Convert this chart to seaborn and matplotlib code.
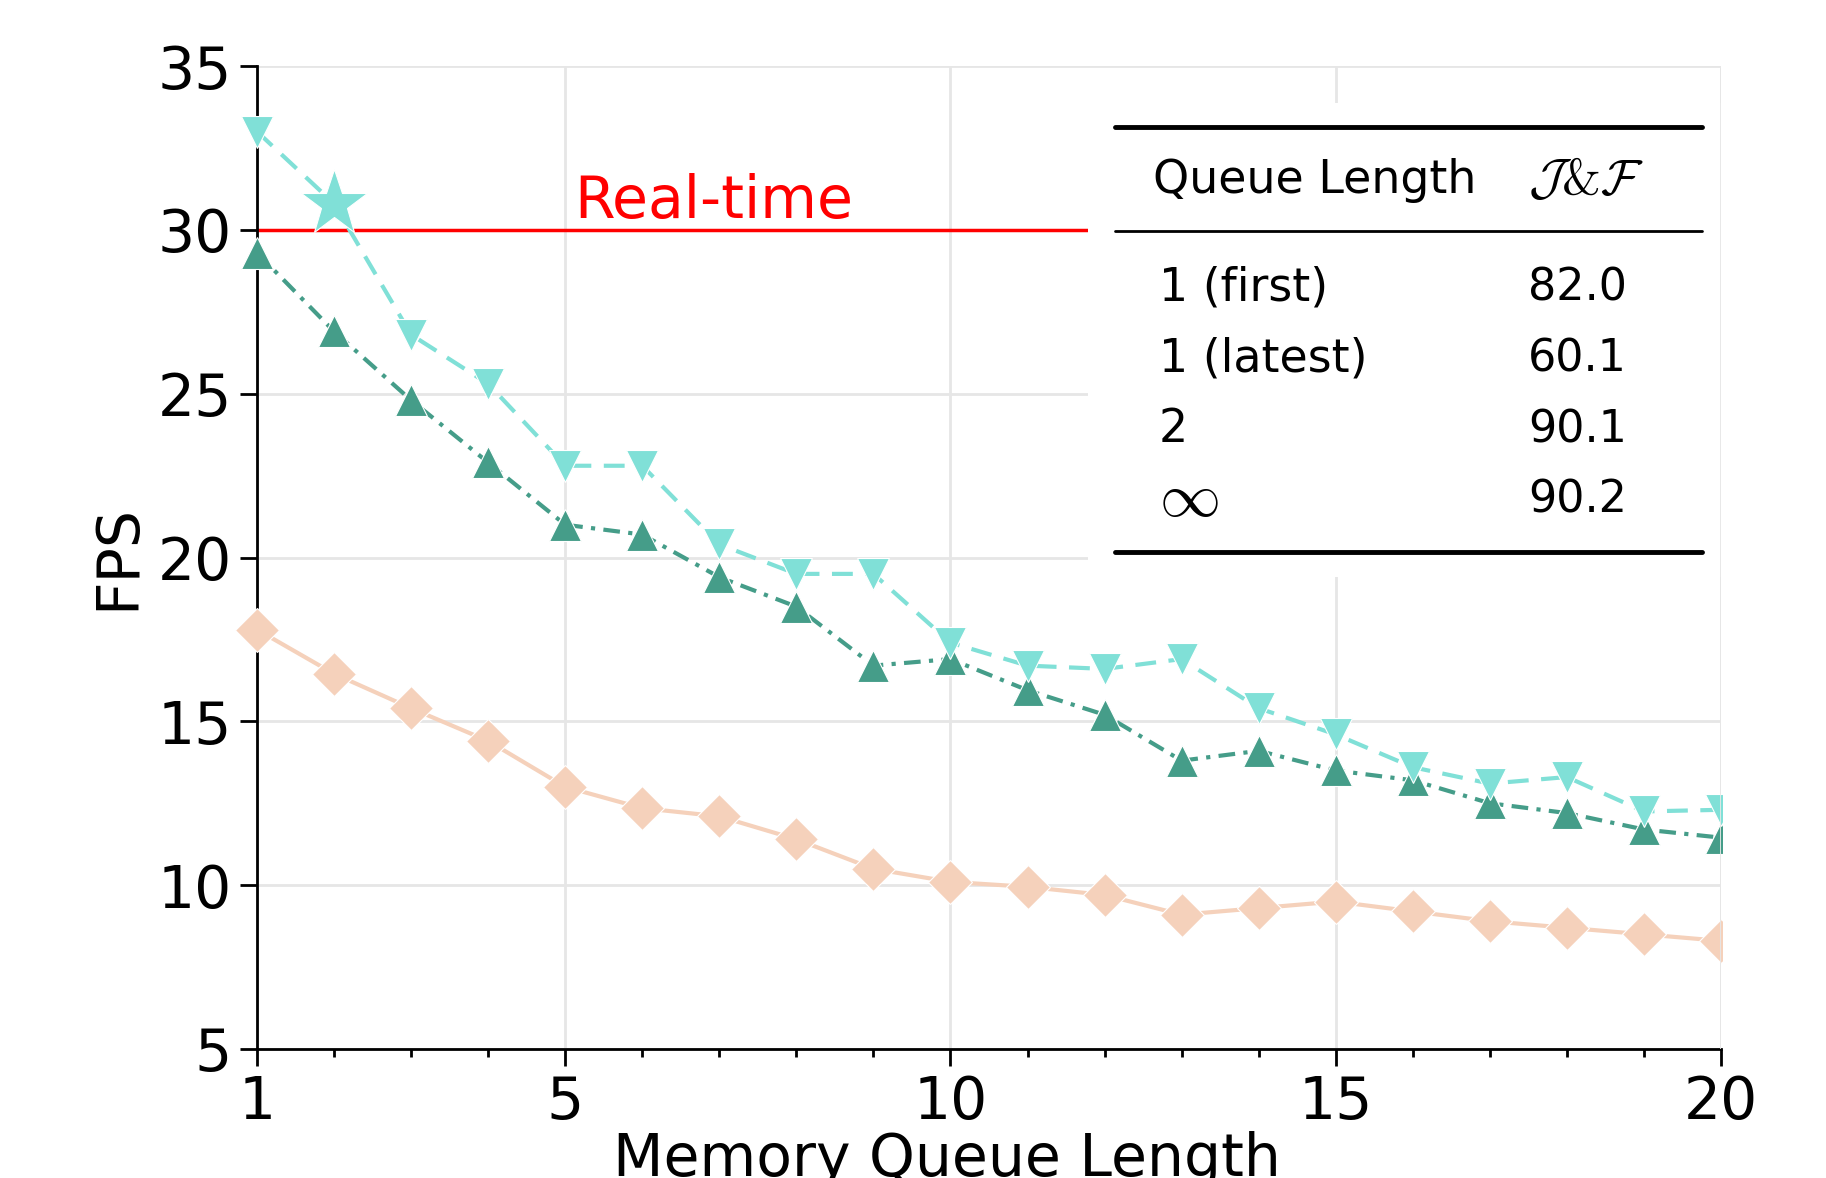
import matplotlib
matplotlib.use("Agg")
import matplotlib.pyplot as plt
import matplotlib.patches as mpatches
import seaborn as sns
import numpy as np
import pandas as pd

# data
queue_len = list(range(1, 21))
fps_cyan = [33.0, 30.8, 26.8, 25.3, 22.8, 22.8, 20.4, 19.5, 19.5, 17.4,
            16.7, 16.6, 16.9, 15.4, 14.6, 13.6, 13.1, 13.3, 12.25, 12.3]
fps_green = [29.3, 26.9, 24.8, 22.9, 21.0, 20.7, 19.4, 18.5, 16.7, 16.9,
             15.95, 15.2, 13.8, 14.1, 13.5, 13.2, 12.5, 12.2, 11.7, 11.45]
fps_peach = [17.8, 16.45, 15.4, 14.4, 13.0, 12.35, 12.1, 11.4, 10.5, 10.1,
             9.95, 9.7, 9.1, 9.3, 9.5, 9.2, 8.9, 8.7, 8.5, 8.3]
star_idx = 1
realtime_fps = 30

table_head = ["Queue Length", r"$\mathcal{J}$&$\mathcal{F}$"]
table_rows = ["1 (first)", "1 (latest)", "2", r"$\infty$"]
table_vals = ["82.0", "60.1", "90.1", "90.2"]

c_cyan = "#80e0d7"
c_green = "#459d89"
c_peach = "#f5d1bb"

df = pd.DataFrame({"q": queue_len, "cyan": fps_cyan, "green": fps_green, "peach": fps_peach})

sns.set_style("white")
plt.rcParams["font.family"] = ["DejaVu Sans"]
plt.rcParams["mathtext.fontset"] = "cm"
plt.rcParams["text.color"] = "black"
plt.rcParams["axes.labelcolor"] = "black"
plt.rcParams["xtick.color"] = "black"
plt.rcParams["ytick.color"] = "black"

fig = plt.figure(figsize=(18.26, 11.78), dpi=100)
ax = fig.add_axes([257 / 1826, 1 - 1049 / 1178, 1464 / 1826, 983 / 1178])

ax.axhline(realtime_fps, color="red", lw=2.5, zorder=2)

sns.lineplot(data=df, x="q", y="peach", ax=ax, color=c_peach, lw=3, marker="D",
             ms=22, markeredgewidth=0.8, clip_on=False, zorder=3)
sns.lineplot(data=df, x="q", y="green", ax=ax, color=c_green, lw=3, marker="^",
             ms=23, dashes=False, linestyle=(0, (4, 2, 1, 2)), markeredgewidth=0.8,
             clip_on=False, zorder=4)
keep = [i for i in range(len(queue_len)) if i != star_idx]
sns.lineplot(data=df, x="q", y="cyan", ax=ax, color=c_cyan, lw=3, marker="v",
             ms=23, dashes=False, linestyle=(0, (5, 3)), markevery=keep,
             markeredgewidth=0.8, clip_on=False, zorder=5)
ax.plot(queue_len[star_idx], fps_cyan[star_idx], marker="*", ms=50, color=c_cyan,
        mec="w", mew=0.8, zorder=6, clip_on=False)

ax.text(0.2166, 0.8454, "Real-time", color="red", fontsize=42,
        transform=ax.transAxes, va="baseline", ha="left")

ax.set_xlim(1, 20)
ax.set_ylim(5, 35)
ax.set_xticks([1, 5, 10, 15, 20])
ax.set_xticks(queue_len, minor=True)
ax.set_yticks(range(5, 36, 5))
ax.tick_params(axis="both", which="major", labelsize=42, length=12, width=2,
               direction="out", pad=6, bottom=True, left=True)
ax.tick_params(axis="x", which="minor", length=6, width=2, direction="out", bottom=True)
ax.grid(True, which="major", color="#e6e6e6", lw=2)
ax.set_axisbelow(True)
for s in ["top", "right"]:
    ax.spines[s].set_visible(False)
for s in ["left", "bottom"]:
    ax.spines[s].set_color("black")
    ax.spines[s].set_linewidth(2)
ax.set_xlabel("Memory Queue Length", fontsize=42)
ax.xaxis.set_label_coords(0.471, -0.083)
ax.set_ylabel("FPS", fontsize=42, labelpad=8)

# white box holding the table
ax.add_patch(mpatches.Rectangle((0.5676, 0.4802), 0.434, 0.4822, transform=ax.transAxes,
                                facecolor="white", edgecolor="none", zorder=10))
ax.plot([0.586, 0.987], [0.938, 0.938], transform=ax.transAxes, color="black", lw=3.5, zorder=11)
ax.plot([0.586, 0.987], [0.832, 0.832], transform=ax.transAxes, color="black", lw=2, zorder=11)
ax.plot([0.586, 0.987], [0.5056, 0.5056], transform=ax.transAxes, color="black", lw=3.5, zorder=11)
ax.text(0.612, 0.884, table_head[0], fontsize=33, transform=ax.transAxes, va="center", zorder=12)
ax.text(0.868, 0.884, table_head[1], fontsize=36, family="cmr10", transform=ax.transAxes,
        va="center", zorder=12)
row_y = [0.774, 0.702, 0.630, 0.5585]
for yy, lab, val in zip(row_y, table_rows, table_vals):
    size = 44 if lab.startswith("$") else 33
    ax.text(0.616, yy, lab, fontsize=size, transform=ax.transAxes, va="center", zorder=12)
    ax.text(0.868, yy, val, fontsize=32, transform=ax.transAxes, va="center", zorder=12)

# the grid line at x=20 stays visible next to the table box
ax.plot([1, 1], [0, 1], transform=ax.transAxes, color="#e6e6e6", lw=2, zorder=15)

# markers are cut at the right edge of the plot
ax.add_patch(mpatches.Rectangle((1.0015, 0), 0.1, 1.05, transform=ax.transAxes,
                                facecolor="white", edgecolor="none", zorder=20, clip_on=False))

fig.savefig("out.png", dpi=100)
